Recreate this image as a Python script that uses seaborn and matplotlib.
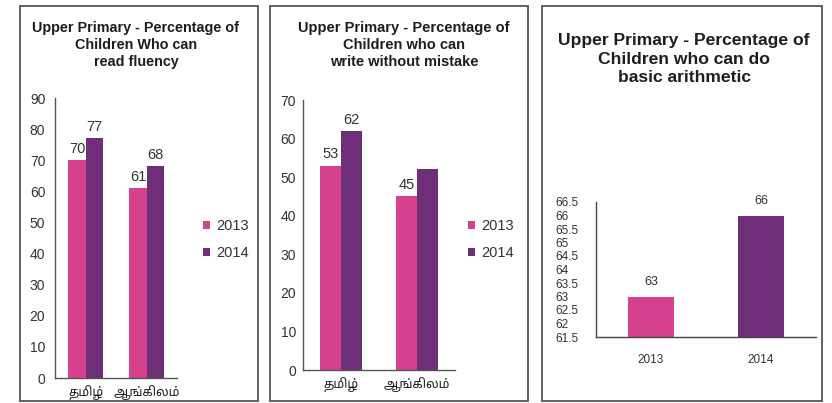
import matplotlib
matplotlib.use("Agg")
import matplotlib.pyplot as plt
from matplotlib import font_manager
from matplotlib.ft2font import FT2Font
from matplotlib.patches import Rectangle
from matplotlib.ticker import FixedLocator, FuncFormatter
import pandas as pd
import seaborn as sns

# ---- data -------------------------------------------------------------
languages = ["தமிழ்", "ஆங்கிலம்"]
years = ["2013", "2014"]

read_2013 = [70, 61]
read_2014 = [77, 68]

write_2013 = [53, 45]
write_2014 = [62, 52]
write_2014_labelled = [True, False]

arith_values = [63, 66]

titles = [
    "Upper Primary - Percentage of\nChildren Who can\nread fluency",
    "Upper Primary - Percentage of\nChildren who can\nwrite without mistake",
    "Upper Primary - Percentage of\nChildren who can do\nbasic arithmetic",
]

PINK = "#D5418D"
PURPLE = "#6E2E78"
palette = [PINK, PURPLE]


def tamil_family():
    found = []
    for fe in font_manager.fontManager.ttflist:
        try:
            if FT2Font(fe.fname).get_char_index(ord("த")):
                found.append(fe.name)
        except Exception:
            continue
    for pref in ("Noto Sans Tamil UI", "Noto Sans Tamil", "Lohit Tamil"):
        if pref in found:
            return pref
    return found[0] if found else None


sns.set_style("white")
TAMIL = tamil_family()
plt.rcParams["font.family"] = ["Liberation Sans", "DejaVu Sans"]
tamil_fonts = [TAMIL, "DejaVu Sans"] if TAMIL else ["DejaVu Sans"]

W, H = 832, 403
fig = plt.figure(figsize=(W / 100, H / 100), dpi=100)
fig.patch.set_facecolor("white")


def px_axes(x0, y0, x1, y1):
    return fig.add_axes([x0 / W, 1 - y1 / H, (x1 - x0) / W, (y1 - y0) / H])


def frame(x0, y0, x1, y1):
    fig.add_artist(Rectangle((x0 / W, 1 - y1 / H), (x1 - x0) / W, (y1 - y0) / H,
                             transform=fig.transFigure, fill=False,
                             edgecolor="#555555", linewidth=1.3))


def title_block(x, y0, dy, text, size):
    for i, line in enumerate(text.split("\n")):
        fig.text(x / W, 1 - (y0 + dy * i) / H, line, ha="center", va="center",
                 fontsize=size, fontweight="bold", color="#1e1e1e")


frame(20, 6, 258, 401)
frame(270, 6, 528, 401)
frame(542, 6, 822, 401)


def grouped(ax, v13, v14, ymax, step, width, legend_xy, ypad):
    df = pd.DataFrame({
        "lang": languages * 2,
        "year": [years[0]] * 2 + [years[1]] * 2,
        "value": list(v13) + list(v14),
    })
    sns.barplot(data=df, x="lang", y="value", hue="year", palette=palette,
                width=width, saturation=1, ax=ax, edgecolor="none", linewidth=0)
    ax.set_ylim(0, ymax)
    ax.set_yticks(range(0, ymax + 1, step))
    ax.set_xlabel("")
    ax.set_ylabel("")
    for s in ("top", "right"):
        ax.spines[s].set_visible(False)
    for s in ("left", "bottom"):
        ax.spines[s].set_color("#555555")
        ax.spines[s].set_linewidth(1.0)
    ax.tick_params(axis="y", length=0, pad=ypad, labelsize=10, labelcolor="#333333")
    ax.tick_params(axis="x", length=0, pad=5, labelsize=9, labelcolor="#1e1e1e")
    for lbl in ax.get_xticklabels():
        lbl.set_fontfamily(tamil_fonts)
    handles, labels = ax.get_legend_handles_labels()
    ax.legend(handles, labels, loc="upper left",
              bbox_to_anchor=(legend_xy[0] / W, 1 - legend_xy[1] / H),
              bbox_transform=fig.transFigure, frameon=False, fontsize=10.5,
              handlelength=0.5, handleheight=0.5, handletextpad=0.4,
              labelspacing=0.9, borderpad=0, borderaxespad=0, labelcolor="#333333")
    return ax


# ---- panel 1: reading -------------------------------------------------
ax1 = px_axes(55, 98, 177, 378)
grouped(ax1, read_2013, read_2014, 90, 10, 0.56, (203, 219), 7)
for cont, vals in zip(ax1.containers, [read_2013, read_2014]):
    ax1.bar_label(cont, labels=[str(v) for v in vals], padding=3,
                  fontsize=10.5, color="#333333")
title_block(136, 28, 17.2, titles[0], 10.4)

# ---- panel 2: writing -------------------------------------------------
ax2 = px_axes(303, 100, 455, 370)
grouped(ax2, write_2013, write_2014, 70, 10, 0.55, (468, 219), 5)
ax2.bar_label(ax2.containers[0], labels=[str(v) for v in write_2013], padding=3,
              fontsize=10.5, color="#333333")
ax2.bar_label(ax2.containers[1],
              labels=[str(v) if show else "" for v, show in zip(write_2014, write_2014_labelled)],
              padding=3, fontsize=10.5, color="#333333")
title_block(404, 28, 17.2, titles[1], 10.5)

# ---- panel 3: arithmetic ----------------------------------------------
ax3 = px_axes(596, 202, 816, 337)
sns.barplot(x=years, y=arith_values, hue=years, palette=palette, width=0.42,
            saturation=1, legend=False, ax=ax3, edgecolor="none", linewidth=0)
ax3.set_ylim(61.5, 66.5)
ax3.set_xlim(-0.5, 1.5)
ax3.yaxis.set_major_locator(FixedLocator([61.5 + 0.5 * i for i in range(11)]))
ax3.yaxis.set_major_formatter(FuncFormatter(lambda v, p: f"{v:g}"))
for s in ("top", "right"):
    ax3.spines[s].set_visible(False)
for s in ("left", "bottom"):
    ax3.spines[s].set_color("#444444")
    ax3.spines[s].set_linewidth(1.0)
ax3.tick_params(axis="y", length=3, width=1, color="#444444", direction="out",
                pad=26, labelsize=8.5, labelcolor="#333333")
for lbl in ax3.get_yticklabels():
    lbl.set_horizontalalignment("left")
ax3.set_xticks([0, 1])
ax3.tick_params(axis="x", which="major", length=0, pad=12, labelsize=8.5, labelcolor="#333333")
ax3.xaxis.set_minor_locator(FixedLocator([0.5]))
ax3.tick_params(axis="x", which="minor", length=3, width=1, color="#444444")
for cont in ax3.containers:
    ax3.bar_label(cont, fmt="%g", padding=6, fontsize=9, color="#333333")
title_block(684, 40, 19, titles[2], 12.6)

fig.savefig("out.png", dpi=100, facecolor="white")
